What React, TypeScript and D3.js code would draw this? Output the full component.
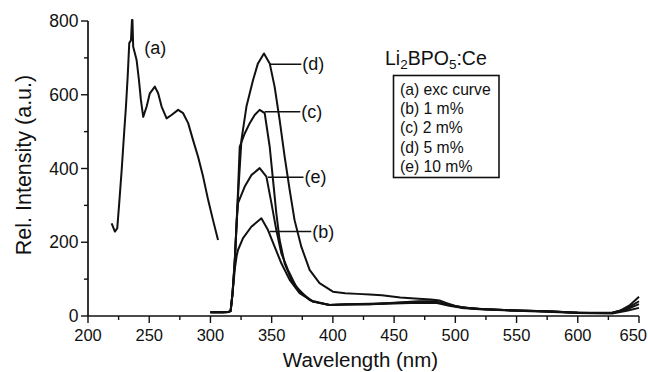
import * as d3 from "d3";

// ── Data ─────────────────────────────────────────────────────────────

type Pt = [number, number];

const excCurve: Pt[] = [
  [219.3, 251], [222.0, 229], [223.9, 238], [225.5, 306], [227.5, 396],
  [229.3, 486], [231.0, 568], [232.4, 649], [233.7, 740], [235.1, 748],
  [235.9, 803], [236.3, 803], [236.9, 730], [239.7, 694], [241.6, 640],
  [243.2, 586], [245.1, 540], [247.9, 568], [250.5, 604], [254.6, 622],
  [257.3, 604], [260.1, 568], [264.2, 536], [268.2, 545], [273.6, 559],
  [277.7, 550], [281.8, 523], [285.8, 477], [289.9, 432], [294.0, 378],
  [298.1, 315], [302.1, 260], [306.2, 206],
];

const emStart: Pt[] = [
  [300, 10], [305, 10], [310, 10], [315, 11], [316.5, 14], [318, 60],
];

const em1: Pt[] = [
  ...emStart,
  [320, 130], [321.5, 165], [322.5, 179], [326.6, 211], [333.4, 242],
  [341.6, 265], [347.0, 233], [352.4, 188], [357.9, 143], [364.7, 98],
  [372.8, 62], [383.7, 39], [397.3, 30], [410, 31], [430, 32], [450, 34],
  [470, 36], [485, 35], [495, 28], [505, 22], [520, 18], [550, 14],
  [580, 11], [600, 8], [628, 7], [640, 14], [650, 22],
];

const em2: Pt[] = [
  ...emStart,
  [319.8, 143], [322.3, 320], [323.9, 459], [328.0, 495], [332.1, 523],
  [336.1, 545], [340.2, 559], [344.3, 550], [348.4, 459], [351.1, 369],
  [353.8, 279], [356.5, 206], [360.6, 143], [366.1, 98], [374.2, 62],
  [383.7, 39], [397.3, 30], [410, 32], [430, 33], [450, 35], [470, 38],
  [485, 38], [495, 30], [505, 23], [520, 19], [550, 15], [580, 12],
  [600, 9], [628, 8], [640, 18], [650, 32],
];

const em5: Pt[] = [
  ...emStart,
  [319.8, 143], [322.5, 324], [325.3, 477], [329.4, 568], [334.8, 640],
  [338.8, 685], [343.7, 712], [348.4, 685], [352.4, 622], [356.5, 532],
  [360.6, 432], [364.7, 342], [368.7, 260], [374.2, 188], [381.0, 125],
  [389.1, 89], [400, 66], [410, 62], [420, 60], [430, 58], [440, 56],
  [455, 50], [470, 47], [480, 45], [487, 42], [493, 35], [500, 27],
  [510, 22], [525, 18], [540, 16], [560, 14], [575, 13], [590, 10],
  [610, 9], [628, 9], [635, 15], [642, 28], [650, 52],
];

const em10: Pt[] = [
  ...emStart,
  [320, 160], [321.5, 260], [322.5, 306], [328.0, 351], [333.4, 382],
  [340.2, 401], [345.7, 378], [349.8, 306], [353.8, 233], [357.9, 170],
  [363.3, 125], [370.1, 79], [381.0, 43], [397.3, 30], [410, 31],
  [430, 32], [450, 36], [470, 40], [482, 40], [492, 32], [505, 24],
  [520, 19], [550, 15], [580, 12], [600, 9], [628, 8], [640, 20], [650, 40],
];

const series: Pt[][] = [excCurve, em1, em2, em5, em10];

// curve labels: label, leader start (nm), leader end (nm), level
const curveLabels: { label: string; x1: number; x2: number; y: number }[] = [
  { label: "(d)", x1: 348.4, x2: 374.2, y: 683 },
  { label: "(c)", x1: 344.3, x2: 373.4, y: 554 },
  { label: "(e)", x1: 347.0, x2: 376.0, y: 376 },
  { label: "(b)", x1: 348.4, x2: 382.4, y: 229 },
];

const legendItems = [
  "(a) exc curve",
  "(b) 1 m%",
  "(c) 2 m%",
  "(d) 5 m%",
  "(e) 10 m%",
];

const xMajor = [200, 250, 300, 350, 400, 450, 500, 550, 600, 650];
const xMinor = [225, 275, 325, 375, 425, 475, 525, 575, 625];
const yMajor = [0, 200, 400, 600, 800];
const yMinor = [100, 300, 500, 700];

// ── Layout ───────────────────────────────────────────────────────────

const W = 648;
const H = 372;
const FONT = "'Liberation Sans', Arial, Helvetica, sans-serif";

const x = d3.scaleLinear().domain([200, 650]).range([88, 639]);
const y = d3.scaleLinear().domain([0, 800]).range([316, 21]);

const line = d3
  .line<Pt>()
  .x((d) => x(d[0]))
  .y((d) => y(d[1]))
  .curve(d3.curveLinear);

export default function App() {
  return (
    <svg
      width={W}
      height={H}
      viewBox={`0 0 ${W} ${H}`}
      style={{ position: "absolute", left: 0, top: 0, background: "#fff" }}
      fontFamily={FONT}
    >
      <rect width={W} height={H} fill="#fff" />

      {/* Axes */}
      <line x1={x(200)} x2={x(650)} y1={y(0)} y2={y(0)} stroke="#111" strokeWidth={1.7} />
      <line x1={x(200)} x2={x(200)} y1={y(0)} y2={y(800)} stroke="#111" strokeWidth={1.7} />

      {xMajor.map((v, i) => {
        // last label is pulled in so it stays inside the frame
        const last = i === xMajor.length - 1;
        return (
          <g key={`xm${v}`}>
            <line x1={x(v)} x2={x(v)} y1={y(0)} y2={y(0) + 7} stroke="#111" strokeWidth={1.4} />
            <text
              x={last ? W - 1 : x(v)}
              y={341}
              fontSize={16.5}
              textAnchor={last ? "end" : "middle"}
              fill="#111"
            >
              {v}
            </text>
          </g>
        );
      })}
      {xMinor.map((v) => (
        <line key={`xn${v}`} x1={x(v)} x2={x(v)} y1={y(0)} y2={y(0) + 4} stroke="#111" strokeWidth={1.4} />
      ))}

      {yMajor.map((v) => (
        <g key={`ym${v}`}>
          <line x1={x(200) - 7} x2={x(200)} y1={y(v)} y2={y(v)} stroke="#111" strokeWidth={1.4} />
          <text x={78.5} y={y(v) + 6} fontSize={17.5} textAnchor="end" fill="#111">
            {v}
          </text>
        </g>
      ))}
      {yMinor.map((v) => (
        <line key={`yn${v}`} x1={x(200) - 4} x2={x(200)} y1={y(v)} y2={y(v)} stroke="#111" strokeWidth={1.4} />
      ))}

      <text x={360.5} y={366.5} fontSize={20.5} textAnchor="middle" fill="#111">
        Wavelength (nm)
      </text>
      <text
        transform="translate(31,165) rotate(-90)"
        fontSize={21.5}
        textAnchor="middle"
        fill="#111"
      >
        Rel. Intensity (a.u.)
      </text>

      {/* Curves */}
      {series.map((s, i) => (
        <path
          key={i}
          d={line(s) ?? ""}
          fill="none"
          stroke="#111"
          strokeWidth={2}
          strokeLinejoin="round"
        />
      ))}

      {/* Curve labels */}
      <text x={x(245.9)} y={54} fontSize={18} fill="#111">
        (a)
      </text>
      {curveLabels.map((c) => (
        <g key={c.label}>
          <line x1={x(c.x1)} x2={x(c.x2)} y1={y(c.y)} y2={y(c.y)} stroke="#111" strokeWidth={1.5} />
          <text x={x(c.x2) + 1} y={y(c.y) + 6} fontSize={18} fill="#111">
            {c.label}
          </text>
        </g>
      ))}

      {/* Legend */}
      <text x={385} y={65} fontSize={19.5} fill="#111">
        Li
        <tspan fontSize={13.5} dy={4}>2</tspan>
        <tspan dy={-4}>BPO</tspan>
        <tspan fontSize={13.5} dy={4}>5</tspan>
        <tspan dy={-4}>:Ce</tspan>
      </text>
      <rect x={393.5} y={75.5} width={105.5} height={102} fill="none" stroke="#111" strokeWidth={1.6} />
      {legendItems.map((t, i) => (
        <text key={t} x={400} y={95 + i * 19.2} fontSize={15.7} fill="#111">
          {t}
        </text>
      ))}
    </svg>
  );
}
